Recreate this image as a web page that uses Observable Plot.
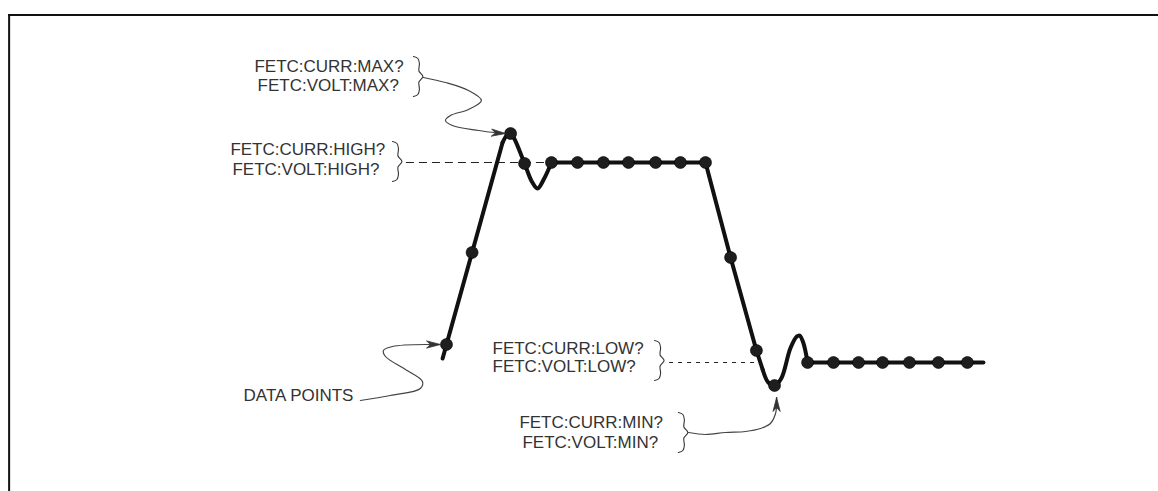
<!DOCTYPE html>
<html><head><meta charset="utf-8">
<script src="https://cdn.jsdelivr.net/npm/d3@7"></script>
<script src="https://cdn.jsdelivr.net/npm/@observablehq/plot@0.6"></script>
<style>
html,body{margin:0;padding:0;background:#fff;overflow:hidden;}
#chart{width:1158px;height:491px;overflow:hidden;}
#chart svg{display:block;}
</style></head><body>
<div id="chart"></div>
<script>
// ---- sampled data points (time in sample periods, level: LOW = 0, HIGH = 1) ----
const sampleTime  = [0, 0.99, 2.48, 3.02, 4.06, 5.07, 6.07, 7.04, 8.09, 9.05, 10.02, 10.99, 11.99, 12.69, 13.97, 14.97, 15.94, 16.87, 17.91, 19.03, 20.15];
const sampleLevel = [0.09, 0.55, 1.145, 0.995, 1.0, 1.0, 1.0, 1.0, 1.0, 1.0, 1.0, 0.525, 0.06, -0.115, 0.0, 0.0, 0.0, 0.0, 0.0, 0.0, 0.0];

// ---- waveform trace: straight runs ----
const riseTime  = [-0.15, 0, 0.99, 2.17];
const riseLevel = [0.02, 0.09, 0.55, 1.10];
const highTime  = [4.06, 5.07, 6.07, 7.04, 8.09, 9.05, 10.02, 10.99, 11.99, 12.23];
const highLevel = [1.0, 1.0, 1.0, 1.0, 1.0, 1.0, 1.0, 0.525, 0.06, -0.035];
const lowTime   = [13.97, 14.97, 15.94, 16.87, 17.91, 19.03, 20.15, 20.77];
const lowLevel  = [0.0, 0.0, 0.0, 0.0, 0.0, 0.0, 0.0, 0.0];
// ---- waveform trace: ringing (overshoot / undershoot) ----
const ring1Time  = [2.17, 2.36, 2.48, 2.62, 3.02, 3.30, 3.52, 3.78, 4.06];
const ring1Level = [1.10, 1.14, 1.145, 1.12, 0.995, 0.905, 0.87, 0.92, 1.0];
const ring2Time  = [12.23, 12.45, 12.69, 12.95, 13.3, 13.55, 13.66, 13.8, 13.97];
const ring2Level = [-0.035, -0.10, -0.115, -0.08, 0.07, 0.13, 0.135, 0.10, 0.0];

// ---- reference levels (dashed) ----
const refLevel = [1.0, 0.0];
const refStart = [-1.55, 8.63];
const refEnd   = [4.06, 12.03];

// ---- annotation text ----
const labelText  = ["FETC:CURR:MAX?", "FETC:VOLT:MAX?", "FETC:CURR:HIGH?", "FETC:VOLT:HIGH?", "FETC:CURR:LOW?", "FETC:VOLT:LOW?", "FETC:CURR:MIN?", "FETC:VOLT:MIN?", "DATA POINTS"];
const labelTime  = [-7.43, -7.31, -8.36, -8.28, 1.78, 1.78, 2.82, 2.94, -7.85];
const labelLevel = [1.48, 1.385, 1.065, 0.965, 0.07, -0.02, -0.30, -0.40, -0.165];

// ---- braces (left edge time, centre level) ----
const braceTime  = [-1.28, -2.09, 8.05, 8.97];
const braceLevel = [1.43, 1.005, 0.01, -0.35];

// ---- leader curves ending in arrows ----
const maxLeaderTime   = [-0.89, -0.04, 0.85, 1.35, 0.85, 0.155, -0.04, 0.23, 1.24, 1.97];
const maxLeaderLevel  = [1.425, 1.40, 1.36, 1.31, 1.265, 1.235, 1.21, 1.185, 1.16, 1.1475];
const dataLeaderTime  = [-3.33, -2.17, -1.01, -0.93, -1.59, -2.36, -2.44, -2.09, -0.81];
const dataLeaderLevel = [-0.19, -0.165, -0.13, -0.095, -0.035, 0.03, 0.06, 0.08, 0.09];
const minLeaderTime   = [9.36, 10.02, 10.79, 11.57, 12.15, 12.53, 12.73, 12.77];
const minLeaderLevel  = [-0.35, -0.36, -0.35, -0.345, -0.33, -0.305, -0.255, -0.215];
const arrowTipTime    = [2.28, -0.23, 12.77];
const arrowTipLevel   = [1.145, 0.09, -0.175];

// ---- frame (top and left border, open at right and bottom) ----
const frameTop = 1.735;
const frameLeft = -16.9;

// ---- scales ----
const xOpt = {domain: [-17.253, 27.544], range: [0, 1158]};
const yOpt = {domain: [-0.645, 1.81], range: [491, 0]};
const sx = Plot.scale({x: xOpt});
const sy = Plot.scale({y: yOpt});

const zip = (ts, vs, extra = {}) => ts.map((t, i) => ({t, v: vs[i], ...extra}));
const samples = zip(sampleTime, sampleLevel);
const straight = [...zip(riseTime, riseLevel, {id: "rise"}), ...zip(highTime, highLevel, {id: "high"}), ...zip(lowTime, lowLevel, {id: "low"})];
const ringing = [...zip(ring1Time, ring1Level, {id: "r1"}), ...zip(ring2Time, ring2Level, {id: "r2"})];
const labels = labelText.map((text, i) => ({text, t: labelTime[i], v: labelLevel[i]}));
const refs = refLevel.map((v, i) => ({v, t1: refStart[i], t2: refEnd[i]}));

// frame bars as thin filled rectangles (2 px thick)
const fx = sx.apply(frameLeft), fy = sy.apply(frameTop);
const frameBars = [
  {x1: sx.invert(fx - 1), x2: xOpt.domain[1], y1: sy.invert(fy - 1), y2: sy.invert(fy + 1)},
  {x1: sx.invert(fx - 1), x2: sx.invert(fx + 1), y1: sy.invert(fy - 1), y2: yOpt.domain[0]}
];

const leaders = [
  ...zip(maxLeaderTime, maxLeaderLevel, {id: "max"}),
  ...zip(dataLeaderTime, dataLeaderLevel, {id: "data"}),
  ...zip(minLeaderTime, minLeaderLevel, {id: "min"})
];
const leaderEnds = [
  [maxLeaderTime.at(-1), maxLeaderLevel.at(-1)],
  [dataLeaderTime.at(-1), dataLeaderLevel.at(-1)],
  [minLeaderTime.at(-1), minLeaderLevel.at(-1)]
];

// brace glyph shape (pixel offsets)
const BRACE = [[0,-20],[4.5,-18],[6,-13],[5.5,-5.5],[9.5,0],[5.5,5.5],[6,13],[4.5,18],[0,20]];
const braces = braceTime.flatMap((t, i) => {
  const px = sx.apply(t), py = sy.apply(braceLevel[i]);
  return BRACE.map(([dx, dy]) => ({id: i, t: sx.invert(px + dx), v: sy.invert(py + dy)}));
});

// filled arrowheads
const heads = arrowTipTime.flatMap((t, i) => {
  const x1 = sx.apply(t), y1 = sy.apply(arrowTipLevel[i]);
  const x0 = sx.apply(leaderEnds[i][0]), y0 = sy.apply(leaderEnds[i][1]);
  const L = Math.hypot(x1 - x0, y1 - y0), ux = (x1 - x0) / L, uy = (y1 - y0) / L;
  const nx = -uy, ny = ux, len = 14, w = 3.6, notch = 10;
  const pts = [[x1, y1], [x1 - len*ux + w*nx, y1 - len*uy + w*ny], [x1 - notch*ux, y1 - notch*uy], [x1 - len*ux - w*nx, y1 - len*uy - w*ny], [x1, y1]];
  return pts.map(([px, py]) => ({id: i, t: sx.invert(px), v: sy.invert(py)}));
});
const headLines = arrowTipTime.flatMap((t, i) => [
  {id: i, t: leaderEnds[i][0], v: leaderEnds[i][1]},
  {id: i, t, v: arrowTipLevel[i]}
]);

const chart = Plot.plot({
  width: 1158,
  height: 491,
  margin: 0,
  style: {background: "#fff", fontFamily: "Liberation Sans, Arial, sans-serif", overflow: "hidden"},
  x: {...xOpt, axis: null},
  y: {...yOpt, axis: null},
  marks: [
    Plot.rect(frameBars, {x1: "x1", x2: "x2", y1: "y1", y2: "y2", fill: "#111"}),
    Plot.line(leaders, {x: "t", y: "v", z: "id", curve: "catmull-rom", stroke: "#444", strokeWidth: 1.2}),
    Plot.line(headLines, {x: "t", y: "v", z: "id", stroke: "#444", strokeWidth: 1.2}),
    Plot.line(braces, {x: "t", y: "v", z: "id", curve: "catmull-rom", stroke: "#333", strokeWidth: 1.1}),
    Plot.ruleY(refs.slice(0, 1), {y: "v", x1: "t1", x2: "t2", stroke: "#222", strokeWidth: 1.2, strokeDasharray: "8,5"}),
    Plot.ruleY(refs.slice(1), {y: "v", x1: "t1", x2: "t2", stroke: "#222", strokeWidth: 1.2, strokeDasharray: "4,5"}),
    Plot.line(straight, {x: "t", y: "v", z: "id", stroke: "#111", strokeWidth: 4, strokeLinejoin: "round", strokeLinecap: "round"}),
    Plot.line(ringing, {x: "t", y: "v", z: "id", curve: "catmull-rom", stroke: "#111", strokeWidth: 4, strokeLinejoin: "round", strokeLinecap: "round"}),
    Plot.dot(samples, {x: "t", y: "v", r: 6, fill: "#1e1e1e", stroke: "#000", strokeWidth: 0.6}),
    Plot.line(heads, {x: "t", y: "v", z: "id", fill: "#333", stroke: "#333", strokeWidth: 0.8}),
    Plot.text(labels, {x: "t", y: "v", text: "text", textAnchor: "start", lineAnchor: "middle", fontSize: 17, fill: "#333", fontFamily: "Liberation Sans, Arial, sans-serif"})
  ]
});
document.getElementById("chart").appendChild(chart);
</script>
</body></html>
